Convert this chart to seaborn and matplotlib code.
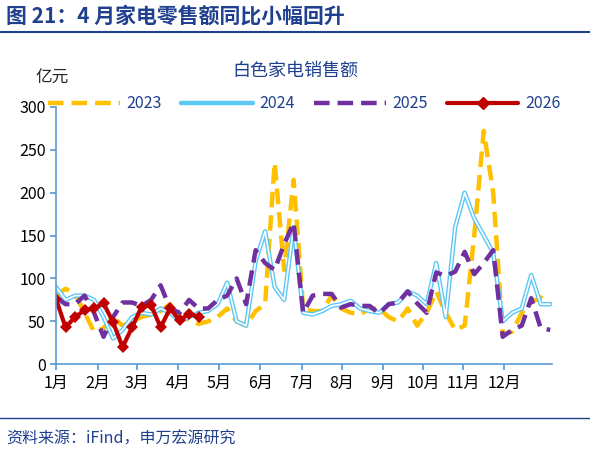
import matplotlib
matplotlib.use("Agg")
import matplotlib.pyplot as plt
import seaborn as sns
import numpy as np
import pandas as pd

sns.set_theme(style="white")
plt.rcParams['font.family'] = ['Noto Sans CJK SC', 'DejaVu Sans']

months = ["1月","2月","3月","4月","5月","6月","7月","8月","9月","10月","11月","12月"]
month_px = [56,98,137,178,219,260,302,342,383,423,463,504]
y2023 = [80,88,82,60,38,42,55,45,50,55,58,62,70,55,52,47,50,55,65,50,45,62,70,235,110,215,65,
         62,62,80,65,60,58,65,65,55,50,65,45,60,85,60,40,45,150,272,200,35,38,60,72,78,70]
y2024 = [90,75,80,80,75,55,30,40,55,60,58,65,60,50,55,60,62,70,95,50,45,120,155,90,75,160,60,
         58,62,68,70,74,65,62,60,70,72,85,80,70,118,55,160,200,170,150,130,50,60,65,104,70,70]
y2025 = [78,70,70,80,60,32,55,72,72,68,75,92,65,60,75,65,65,75,80,100,70,133,118,110,140,165,60,
         80,82,82,66,70,68,68,59,70,72,85,71,60,107,103,108,131,105,118,133,32,40,45,77,42,40]
y2026 = [76,43,55,63,65,71,49,20,43,67,69,43,65,51,59,55]

colors = {"2023":"#FFC000","2024":"#5BC8F5","2025":"#7030A0","2026":"#C00000"}
fig = plt.figure(figsize=(5.9,4.57), dpi=100)
ax = fig.add_axes([0.095,0.203,0.841,0.563])
step = 9.5
def xs(n): return np.arange(n)

sns.lineplot(x=xs(len(y2023)), y=y2023, ax=ax, color=colors["2023"], lw=3.2,
             label="2023").lines[-1].set_dashes([3.5,1.8])
sns.lineplot(x=xs(len(y2024)), y=y2024, ax=ax, color=colors["2024"], lw=3.2, label="2024")
ax.plot(xs(len(y2024)), y2024, color="white", lw=1.2)
sns.lineplot(x=xs(len(y2025)), y=y2025, ax=ax, color=colors["2025"], lw=3.2, label="2025").lines[-1].set_dashes([3.5,1.8])
sns.lineplot(x=xs(len(y2026)), y=y2026, ax=ax, color=colors["2026"], lw=3, marker="D", markersize=6,
             markeredgewidth=0, label="2026")

ax.set_xlim(0, (552-56)/step)
ax.set_ylim(0,300)
ax.set_yticks(range(0,301,50))
ax.set_xticks([(p-56)/step for p in month_px])
ax.set_xticklabels(months)
ax.set_xlabel(""); ax.set_ylabel("")
for s in ["top","right"]: ax.spines[s].set_visible(False)
for s in ["left","bottom"]:
    ax.spines[s].set_color("#5B9BD5"); ax.spines[s].set_linewidth(1.2)
ax.tick_params(axis="both", colors="#5B9BD5", labelcolor="black", labelsize=11.5, length=4, direction="out",
               left=True, bottom=True)

from matplotlib.lines import Line2D
h = [Line2D([],[],color=colors["2023"],lw=3.2,dashes=[3.5,1.8]),
     Line2D([],[],color=colors["2024"],lw=3.2),
     Line2D([],[],color=colors["2025"],lw=3.2,dashes=[3.5,1.8]),
     Line2D([],[],color=colors["2026"],lw=3,marker="D",markersize=6)]
leg = ax.legend(h, ["2023","2024","2025","2026"], loc="lower center", bbox_to_anchor=(0.5,0.955),
                ncol=4, frameon=False, fontsize=11.5, handlelength=4.5, columnspacing=1.2, handletextpad=0.4,
                borderaxespad=0)
for t in leg.get_texts(): t.set_color("#1F3F8F")
fig.text(0.5, 0.835, "白色家电销售额", ha="center", fontsize=13, color="#1F3F8F")
fig.text(0.06, 0.82, "亿元", ha="left", fontsize=12)
fig.text(0.01, 0.95, "图 21：4 月家电零售额同比小幅回升", ha="left", fontsize=15, fontweight="bold", color="#1F3F8F")
fig.add_artist(Line2D([0,1],[0.93,0.93], color="#1F3F8F", lw=1.5, transform=fig.transFigure))
fig.add_artist(Line2D([0,1],[0.085,0.085], color="#1F3F8F", lw=1, transform=fig.transFigure))
fig.text(0.01, 0.03, "资料来源：iFind，申万宏源研究", ha="left", fontsize=11.5, color="#1F3F8F")
fig.savefig("out.png", dpi=100)
